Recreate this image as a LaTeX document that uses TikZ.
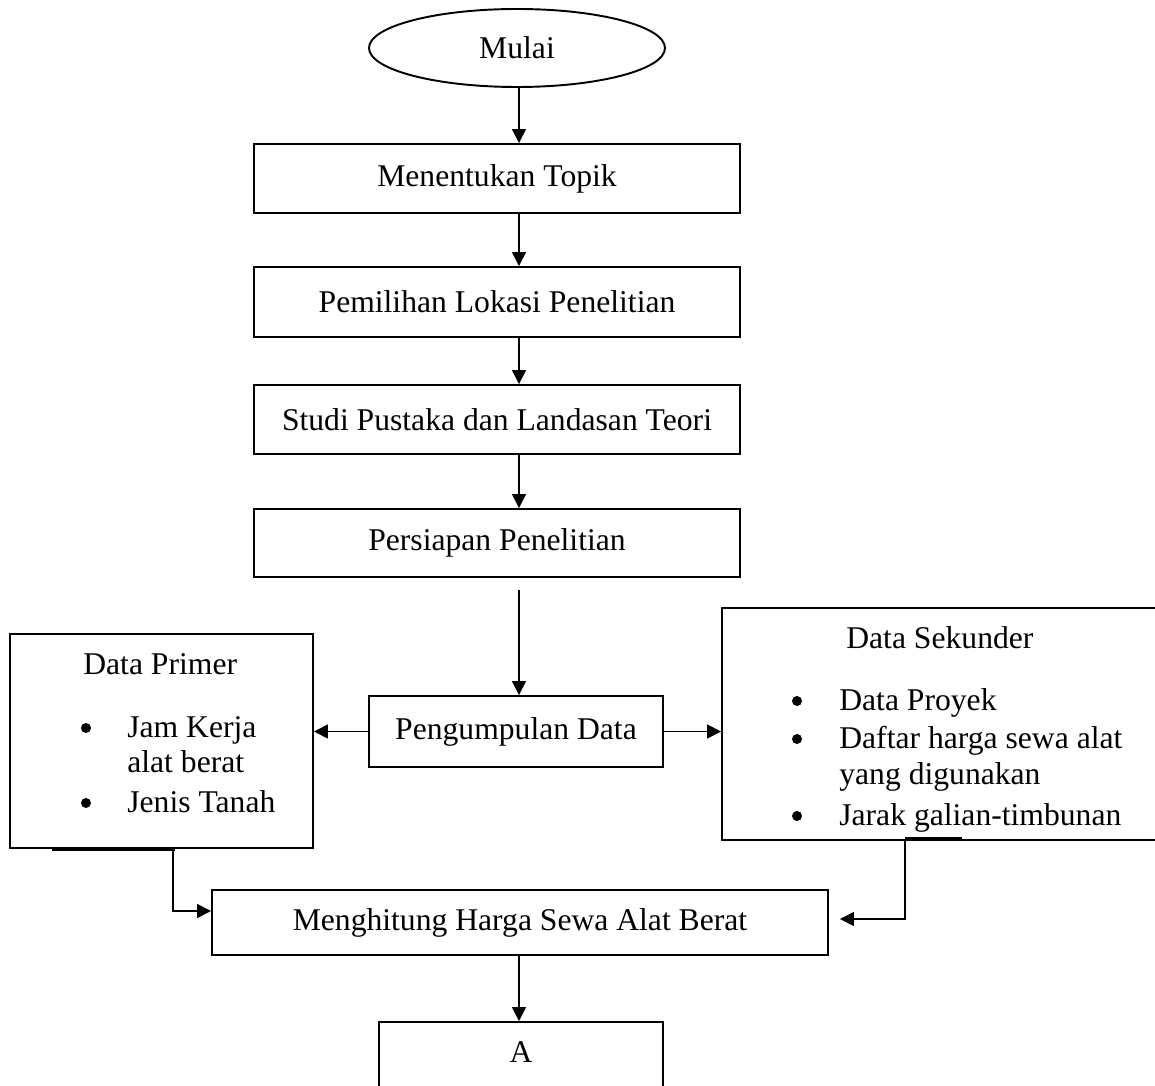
\documentclass[tikz,border=0pt]{standalone}
\usepackage{fontspec}
\setmainfont{Liberation Serif}
\usetikzlibrary{shapes.geometric, arrows.meta, calc}

\begin{document}
\begin{tikzpicture}[
  font=\fontsize{18}{22}\selectfont,
  kotak/.style={draw, line width=1.1pt, rectangle, inner sep=0pt},
  arus/.style={line width=0.9pt, -{Triangle[length=0.28cm, width=0.28cm]}},
  garis/.style={line width=0.6pt},
  teks/.style={anchor=base west, inner sep=0pt},
  titik/.style={circle, fill, inner sep=0pt, minimum size=0.2cm}
]
  \useasboundingbox (0,0) rectangle (23.1,-21.72);
  \node[draw, line width=1.1pt, ellipse, minimum width=5.92cm, minimum height=1.56cm, inner sep=0pt] (mulai) at (10.34,-0.96) {Mulai};
  \node[kotak, minimum width=9.72cm, minimum height=1.38cm] (topik) at (9.94,-3.57) {Menentukan Topik};
  \node[kotak, minimum width=9.72cm, minimum height=1.40cm] (lokasi) at (9.94,-6.04) {Pemilihan Lokasi Penelitian};
  \node[kotak, minimum width=9.72cm, minimum height=1.38cm] (studi) at (9.94,-8.39) {Studi Pustaka dan Landasan Teori};
  \node[kotak, minimum width=9.72cm, minimum height=1.36cm] (persiapan) at (9.94,-10.86) {Persiapan Penelitian};
  \node[kotak, minimum width=5.88cm, minimum height=1.42cm] (kumpul) at (10.32,-14.63) {Pengumpulan Data};
  \node[kotak, minimum width=6.06cm, minimum height=4.28cm] (primer) at (3.23,-14.82) {};
  \node[kotak, minimum width=8.96cm, minimum height=4.64cm] (sekunder) at (18.92,-14.48) {};
  \node[kotak, minimum width=12.32cm, minimum height=1.30cm] (hitung) at (10.40,-18.45) {Menghitung Harga Sewa Alat Berat};
  \node[kotak, minimum width=5.68cm, minimum height=1.60cm, text depth=0.4cm] (a) at (10.42,-21.24) {A};

  \node[teks] (primer-judul) at (1.66,-13.48) {Data Primer};
  \node[titik] (primer-b1) at (1.72,-14.56) {};
  \node[teks] (primer-t1) at (2.54,-14.74) {Jam Kerja};
  \node[teks] (primer-t2) at (2.54,-15.44) {alat berat};
  \node[titik] (primer-b2) at (1.72,-16.06) {};
  \node[teks] (primer-t3) at (2.54,-16.24) {Jenis Tanah};

  \node[teks] (sekunder-judul) at (16.92,-12.96) {Data Sekunder};
  \node[titik] (sekunder-b1) at (15.94,-14.02) {};
  \node[teks] (sekunder-t1) at (16.78,-14.20) {Data Proyek};
  \node[titik] (sekunder-b2) at (15.94,-14.78) {};
  \node[teks] (sekunder-t2) at (16.78,-14.96) {Daftar harga sewa alat};
  \node[teks] (sekunder-t3) at (16.78,-15.68) {yang digunakan};
  \node[titik] (sekunder-b3) at (15.94,-16.32) {};
  \node[teks] (sekunder-t4) at (16.78,-16.50) {Jarak galian-timbunan};

  \coordinate (ax) at (10.38,0);
  \coordinate (kiri) at (3.46,-18.22);
  \coordinate (kanan) at (18.10,-18.38);
  \draw[arus] (mulai.south -| ax) -- (topik.north -| ax);
  \draw[arus] (topik.south -| ax) -- (lokasi.north -| ax);
  \draw[arus] (lokasi.south -| ax) -- (studi.north -| ax);
  \draw[arus] (studi.south -| ax) -- (persiapan.north -| ax);
  \draw[arus, shorten <=0.24cm] (persiapan.south -| ax) -- (kumpul.north -| ax);
  \draw[arus] (kumpul.west) -- (kumpul.west -| primer.east);
  \draw[arus] (kumpul.east) -- (kumpul.east -| sekunder.west);
  \draw[arus] (primer.south -| kiri) |- (hitung.west |- kiri);
  \draw[arus] ($(sekunder.south -| kanan)+(0,0.04)$) |- ($(hitung.east |- kanan)+(0.22,0)$);
  \draw[arus] (hitung.south -| ax) -- (a.north -| ax);
  \draw[garis] (1.04,-17.00) -- (3.50,-17.00);
  \draw[garis] (18.10,-16.76) -- (19.24,-16.76);
\end{tikzpicture}
\end{document}
